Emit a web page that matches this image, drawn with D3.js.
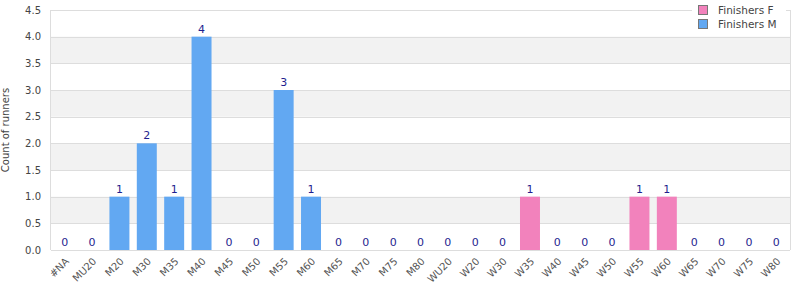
<!DOCTYPE html>
<html>
<head>
<meta charset="utf-8">
<script src="https://cdn.jsdelivr.net/npm/d3@7"></script>
<style>
  body { margin: 0; background: #fff; }
  #chart { width: 800px; height: 300px; }
  text { font-family: "DejaVu Sans", sans-serif; }
</style>
</head>
<body>
<div id="chart"></div>
<script>

// data
const categories = ["#NA","MU20","M20","M30","M35","M40","M45","M50","M55","M60","M65","M70","M75","M80",
    "WU20","W20","W30","W35","W40","W45","W50","W55","W60","W65","W70","W75","W80"];
const finishersM = [0,0,1,2,1,4,0,0,3,1,0,0,0,0,0,0,0,0,0,0,0,0,0,0,0,0,0];
const finishersF = [0,0,0,0,0,0,0,0,0,0,0,0,0,0,0,0,0,1,0,0,0,1,1,0,0,0,0];
const yTicks = [0,0.5,1,1.5,2,2.5,3,3.5,4,4.5];
const seriesNames = ["Finishers F","Finishers M"];
const seriesColors = ["#f282bc","#62a8f2"];

const width = 800, height = 300;
const margin = { top: 10, left: 51, right: 10, bottom: 50 };

const svg = d3.select("#chart")
    .append("svg")
    .attr("width", width)
    .attr("height", height);

const xScale = d3.scaleBand()
    .domain(categories)
    .range([margin.left, width - margin.right])
    .paddingInner(0.27)
    .paddingOuter(0.135);

const yScale = d3.scaleLinear()
    .domain([0, 4.5])
    .range([height - margin.bottom, margin.top]);

// alternating bands
for (let i = 0; i < yTicks.length - 1; i++) {
    if (i % 2 === 1) {
        svg.append("rect")
            .attr("x", margin.left)
            .attr("y", yScale(yTicks[i + 1]))
            .attr("width", width - margin.right - margin.left)
            .attr("height", yScale(yTicks[i]) - yScale(yTicks[i + 1]))
            .attr("fill", "#f2f2f2");
    }
}

// gridlines
svg.append("g")
    .selectAll("line")
    .data(yTicks)
    .enter()
    .append("line")
        .attr("x1", margin.left)
        .attr("x2", width - margin.right)
        .attr("y1", d => Math.round(yScale(d)) + 0.5)
        .attr("y2", d => Math.round(yScale(d)) + 0.5)
        .attr("stroke", "#dddddd");

// frame
svg.append("line")
    .attr("x1", margin.left - 0.5).attr("x2", margin.left - 0.5)
    .attr("y1", margin.top).attr("y2", height - margin.bottom)
    .attr("stroke", "#dddddd");
svg.append("line")
    .attr("x1", width - margin.right + 0.5).attr("x2", width - margin.right + 0.5)
    .attr("y1", margin.top).attr("y2", height - margin.bottom)
    .attr("stroke", "#dddddd");

// y tick labels
svg.append("g")
    .selectAll("text")
    .data(yTicks)
    .enter()
    .append("text")
        .attr("x", margin.left - 10)
        .attr("y", d => yScale(d))
        .attr("dy", "0.35em")
        .attr("text-anchor", "end")
        .attr("font-size", "10px")
        .attr("fill", "#444")
        .text(d => d.toFixed(1));

// x tick labels
svg.append("g")
    .selectAll("text")
    .data(categories)
    .enter()
    .append("text")
        .attr("transform", d => `translate(${xScale(d) + xScale.bandwidth() / 2 + 5},${height - margin.bottom + 12}) rotate(-45)`)
        .attr("text-anchor", "end")
        .attr("font-size", "10px")
        .attr("fill", "#555")
        .text(d => d);

// bars
const rows = categories.map((c, i) => ({ cat: c, m: finishersM[i], f: finishersF[i] }));

svg.append("g")
    .selectAll("rect")
    .data(rows.filter(d => d.m > 0))
    .enter()
    .append("rect")
        .attr("x", d => xScale(d.cat))
        .attr("y", d => yScale(d.m))
        .attr("width", xScale.bandwidth())
        .attr("height", d => yScale(0) - yScale(d.m))
        .attr("fill", seriesColors[1]);

svg.append("g")
    .selectAll("rect")
    .data(rows.filter(d => d.f > 0))
    .enter()
    .append("rect")
        .attr("x", d => xScale(d.cat))
        .attr("y", d => yScale(d.f))
        .attr("width", xScale.bandwidth())
        .attr("height", d => yScale(0) - yScale(d.f))
        .attr("fill", seriesColors[0]);

// value labels
svg.append("g")
    .selectAll("text")
    .data(rows)
    .enter()
    .append("text")
        .attr("x", d => xScale(d.cat) + xScale.bandwidth() / 2)
        .attr("y", d => yScale(d.m + d.f) - 4)
        .attr("text-anchor", "middle")
        .attr("font-size", "11px")
        .attr("fill", "#1f1f8f")
        .text(d => d.m + d.f);

// y axis title
svg.append("text")
    .attr("transform", "rotate(-90)")
    .attr("x", -(margin.top + (height - margin.bottom - margin.top) / 2))
    .attr("y", 9)
    .attr("text-anchor", "middle")
    .attr("font-size", "10px")
    .attr("fill", "#444")
    .text("Count of runners");

// legend
const legend = svg.append("g").attr("transform", "translate(692,3)");
legend.append("rect")
    .attr("x", 0).attr("y", 0)
    .attr("width", 94).attr("height", 30)
    .attr("fill", "#fff");
seriesNames.forEach((name, i) => {
    legend.append("rect")
        .attr("x", 6.5).attr("y", 2.5 + i * 14)
        .attr("width", 9).attr("height", 9)
        .attr("fill", seriesColors[i])
        .attr("stroke", "#777");
    legend.append("text")
        .attr("x", 26).attr("y", 7 + i * 14)
        .attr("dy", "0.35em")
        .attr("font-size", "10.5px")
        .attr("fill", "#444")
        .text(name);
});

</script>
</body>
</html>
